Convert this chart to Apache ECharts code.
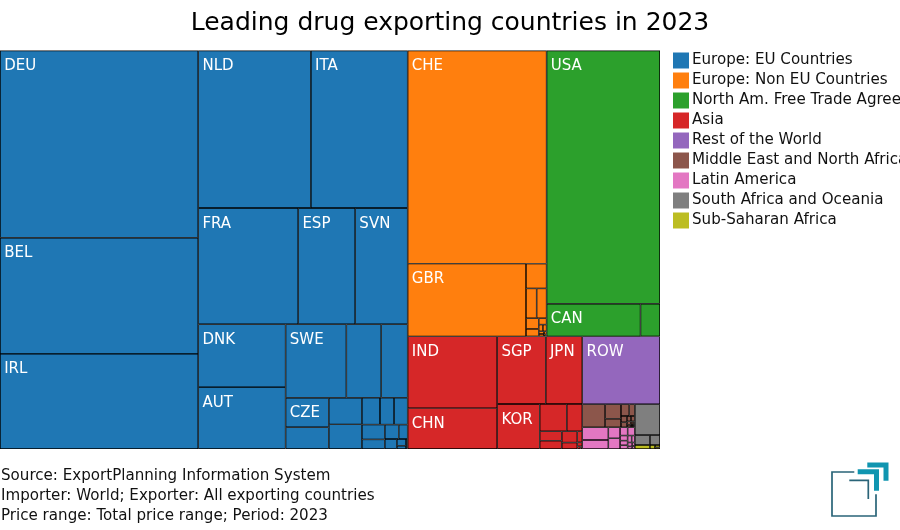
<!DOCTYPE html>
<html>
<head>
<meta charset="utf-8">
<style>
  html, body { margin: 0; padding: 0; background: #fff; }
  #chart { width: 900px; height: 530px; }
</style>
<script src="https://cdn.jsdelivr.net/npm/echarts@6/dist/echarts.min.js"></script>
</head>
<body>
<div id="chart"></div>
<script>
// region names and colours, same order as the legend
const regions = ['Europe: EU Countries', 'Europe: Non EU Countries', 'North Am. Free Trade Agreement', 'Asia',
  'Rest of the World', 'Middle East and North Africa', 'Latin America', 'South Africa and Oceania', 'Sub-Saharan Africa']
const colors = ['#1f77b4', '#ff7f0e', '#2ca02c', '#d62728', '#9467bd', '#8c564b', '#e377c2', '#7f7f7f', '#bcbd22']

// values (tile areas). small tiles have no label in the reference
const euNames = ['DEU', 'BEL', 'IRL', 'NLD', 'ITA', 'FRA', 'ESP', 'SVN', 'DNK', 'AUT', 'SWE', '', '', 'CZE']
const euValues = [37026, 22968, 18810, 17700, 15200, 11600, 6612, 6090, 5481, 5394, 4453, 2555, 1935, 1275,
  935, 880, 815, 486, 378, 365, 339, 219, 200, 129, 120, 62, 30, 16]
const nonEuNames = ['CHE', 'GBR']
const nonEuValues = [29537, 8591, 510, 317, 296, 135, 95, 50, 28, 25, 14, 13, 8, 5]
const naftaNames = ['USA', 'CAN']
const naftaValues = [28659, 3055, 634]
const asiaNames = ['IND', 'CHN', 'SGP', 'JPN', 'KOR']
const asiaValues = [6408, 3649, 3274, 2464, 1911, 737, 424, 183, 175, 207, 100, 55, 20, 8, 5]
const rowNames = ['ROW']
const rowValues = [5260]
const menaValues = [525, 230, 135, 97, 65, 37, 30, 22, 20, 14, 10, 8, 6, 5, 4]
const latinValues = [330, 234, 129, 125, 62, 59, 38, 35, 28, 28, 22, 18, 12, 9, 8]
const oceaniaValues = [775, 150, 100]
const africaValues = [60, 20, 12, 8]

const regionData = [
  [euNames, euValues], [nonEuNames, nonEuValues], [naftaNames, naftaValues], [asiaNames, asiaValues],
  [rowNames, rowValues], [[], menaValues], [[], latinValues], [[], oceaniaValues], [[], africaValues]
]

const title = 'Leading drug exporting countries in 2023'
const notes = ['Source: ExportPlanning Information System', 'Importer: World; Exporter: All exporting countries',
  'Price range: Total price range; Period: 2023']

const fontFamily = 'DejaVu Sans'

const treeData = regions.map((name, i) => ({
  name: name,
  itemStyle: { color: colors[i] },
  children: regionData[i][1].map((value, j) => ({ name: regionData[i][0][j] || '', value: value }))
}))

const chart = echarts.init(document.getElementById('chart'), null, { renderer: 'canvas' })
chart.setOption({
  animation: false,
  color: colors,
  title: [
    { text: title, left: 'center', top: 6, textStyle: { fontFamily, fontSize: 25, fontWeight: 'normal', color: '#000' } },
    {
      text: notes.join('\n'), left: 1, top: 466.5, padding: 0,
      textStyle: { fontFamily, fontSize: 15.1, fontWeight: 'normal', color: '#111', lineHeight: 20 }
    }
  ],
  legend: {
    orient: 'vertical', left: 673, top: 52.5, padding: 0, itemWidth: 16, itemHeight: 16, itemGap: 4, icon: 'rect',
    selectedMode: false,
    textStyle: { fontFamily, fontSize: 15.1, color: '#111', padding: [0, 0, 0, -2] },
    data: regions
  },
  series: [
    {
      // empty pie so the legend gets its entries, treemap has none of its own
      type: 'pie', radius: [0, 0], silent: true, label: { show: false }, labelLine: { show: false },
      stillShowZeroSum: false,
      data: regions.map(name => ({ name: name, value: 0 }))
    },
    {
      type: 'treemap', left: 0, top: 50.5, width: 660, height: 398.5,
      roam: false, nodeClick: false, breadcrumb: { show: false },
      visibleMin: 0, sort: 'desc', animation: false,
      label: {
        show: true, position: 'insideTopLeft', distance: 3.5, padding: [4, 0, 0, 0], overflow: 'none',
        color: '#fff', fontFamily, fontSize: 15
      },
      levels: [
        { itemStyle: { borderWidth: 0, gapWidth: 0 } },
        { itemStyle: { borderWidth: 0, gapWidth: 0 } },
        { itemStyle: { borderWidth: 0.7, borderColor: '#000', gapWidth: 0 } }
      ],
      data: treeData
    }
  ],
  graphic: [
    {
      type: 'polyline', shape: { points: [[854.3, 472], [832, 472], [832, 516], [876, 516], [876, 494.3]] },
      style: { stroke: '#2a6478', lineWidth: 1.7, fill: 'none' }
    },
    {
      type: 'polyline', shape: { points: [[849.3, 480.3], [868.3, 480.3], [868.3, 499]] },
      style: { stroke: '#2a6478', lineWidth: 1.7, fill: 'none' }
    },
    {
      type: 'polyline', shape: { points: [[857.7, 471.7], [876.5, 471.7], [876.5, 490.7]] },
      style: { stroke: '#1095b0', lineWidth: 5, fill: 'none' }
    },
    {
      type: 'polyline', shape: { points: [[867.3, 465], [886, 465], [886, 480.7]] },
      style: { stroke: '#1095b0', lineWidth: 5, fill: 'none' }
    }
  ]
})
</script>
</body>
</html>
